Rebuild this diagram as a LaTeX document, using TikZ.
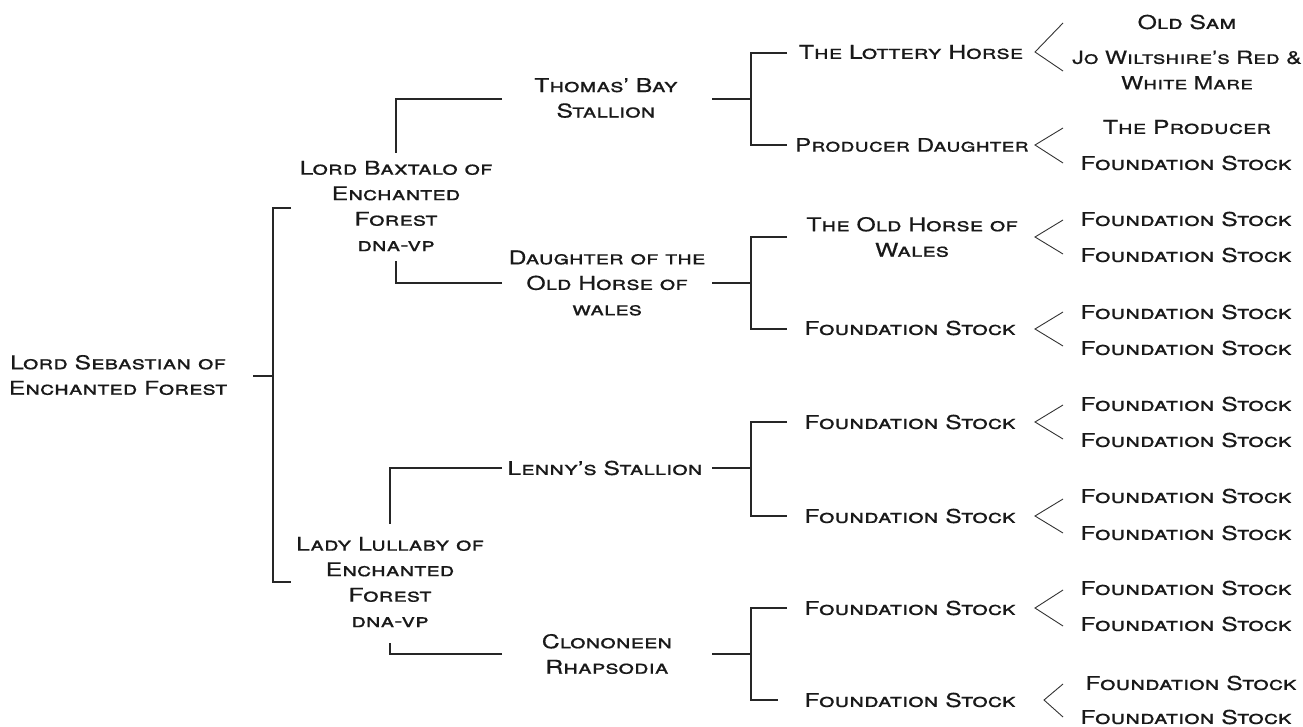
\documentclass[tikz,border=0pt]{standalone}
\usepackage{fontspec}
\setmainfont{TeX Gyre Heros}[FakeStretch=1.3, FakeBold=0.6]

\begin{document}
\begin{tikzpicture}[x=1pt,y=-1pt,
  horse/.style={font=\fontsize{19}{25.5}\selectfont\scshape, align=center, inner sep=4pt, text=black!90},
  tight/.style={font=\fontsize{18}{25.5}\selectfont\scshape},
  link/.style={line width=1.5pt, draw=black!85},
  fork/.style={line width=0.9pt, draw=black!80}]
\useasboundingbox (0,0) rectangle (1303,726);

% Subject
\node[horse] (seb) at (118,375) {Lord Sebastian of\\Enchanted Forest};

% Parents
\node[horse] (bax) at (396,206) {Lord Baxtalo of\\Enchanted\\Forest\\dna-vp};
\node[horse] (lul) at (390,582) {Lady Lullaby of\\Enchanted\\Forest\\dna-vp};

% Grandparents
\node[horse] (thomas) at (606,98) {Thomas' Bay\\Stallion};
\node[horse] (daughter) at (607,283) {Daughter of the\\Old Horse of\\wales};
\node[horse] (lenny) at (605,468) {Lenny's Stallion};
\node[horse] (clon) at (607,654) {Clononeen\\Rhapsodia};

% Great-grandparents
\node[horse] (lottery) at (911,52) {The Lottery Horse};
\node[horse, font=\fontsize{18.5}{25.5}\selectfont\scshape] (prodd) at (912,145) {Producer Daughter};
\node[horse] (oldhorse) at (912,237) {The Old Horse of\\Wales};
\node[horse] (fsb) at (910,328) {Foundation Stock};
\node[horse] (fsc) at (910,422) {Foundation Stock};
\node[horse] (fsd) at (910,516) {Foundation Stock};
\node[horse] (fse) at (910,608) {Foundation Stock};
\node[horse] (fsf) at (910,700) {Foundation Stock};

% Great-great-grandparents
\node[horse] (oldsam) at (1187,22) {Old Sam};
\node[horse, tight] (jo) at (1187,70) {Jo Wiltshire's Red \&\\White Mare};
\node[horse] (producer) at (1187,127) {The Producer};
\node[horse] (fs1) at (1186,163) {Foundation Stock};
\node[horse] (fs2) at (1186,219) {Foundation Stock};
\node[horse] (fs3) at (1186,255) {Foundation Stock};
\node[horse] (fs4) at (1186,312) {Foundation Stock};
\node[horse] (fs5) at (1186,348) {Foundation Stock};
\node[horse] (fs6) at (1186,404) {Foundation Stock};
\node[horse] (fs7) at (1186,440) {Foundation Stock};
\node[horse] (fs8) at (1186,496) {Foundation Stock};
\node[horse] (fs9) at (1186,533) {Foundation Stock};
\node[horse] (fs10) at (1186,588) {Foundation Stock};
\node[horse] (fs11) at (1186,624) {Foundation Stock};
\node[horse] (fs12) at (1191,683) {Foundation Stock};
\node[horse] (fs13) at (1186,717) {Foundation Stock};

% Bracket: subject to parents
\coordinate (seb-out) at (253,376);
\coordinate (j0) at (273,376);
\coordinate (bax-in) at (291,208);
\coordinate (lul-in) at (291,582);
\draw[link] (seb-out) -- (j0);
\draw[link] (bax-in) -| (j0) |- (lul-in);

% Parents to grandparents
\coordinate (thomas-in) at (502,99);
\coordinate (daughter-in) at (502,283);
\coordinate (lenny-in) at (502,468);
\coordinate (clon-in) at (502,654);
\draw[link, shorten >=4pt] (thomas-in) -| (bax.north);
\draw[link, shorten >=6pt] (daughter-in) -| (bax.south);
\draw[link, shorten >=9pt] (lenny-in) -| (lul.north);
\draw[link, shorten >=12pt] (clon-in) -| (lul.south);

% Grandparents to great-grandparents
\coordinate (thomas-out) at (712,99);
\coordinate (ja) at (751,99);
\coordinate (lottery-in) at (787,53);
\coordinate (prodd-in) at (787,145);
\draw[link] (thomas-out) -- (ja);
\draw[link] (lottery-in) -| (ja) |- (prodd-in);

\coordinate (daughter-out) at (712,283);
\coordinate (jb) at (751,283);
\coordinate (oldhorse-in) at (787,237);
\coordinate (fsb-in) at (787,329);
\draw[link] (daughter-out) -- (jb);
\draw[link] (oldhorse-in) -| (jb) |- (fsb-in);

\coordinate (lenny-out) at (712,468);
\coordinate (jc) at (751,468);
\coordinate (fsc-in) at (787,422);
\coordinate (fsd-in) at (787,516);
\draw[link] (lenny-out) -- (jc);
\draw[link] (fsc-in) -| (jc) |- (fsd-in);

\coordinate (clon-out) at (712,654);
\coordinate (jd) at (751,654);
\coordinate (fse-in) at (787,608);
\coordinate (fsf-in) at (778,700);
\draw[link] (clon-out) -- (jd);
\draw[link] (fse-in) -| (jd) |- (fsf-in);

% Forks to great-great-grandparents
\coordinate (lottery-v) at (1035,52);
\coordinate (prodd-v) at (1035,145);
\coordinate (oldhorse-v) at (1035,237);
\coordinate (fsb-v) at (1035,329);
\coordinate (fsc-v) at (1035,422);
\coordinate (fsd-v) at (1035,516);
\coordinate (fse-v) at (1035,608);
\coordinate (fsf-v) at (1044,700);
\draw[fork] (lottery-v) ++(28,-29) -- (lottery-v) -- ++(28,19);
\draw[fork] (prodd-v) ++(28,-17) -- (prodd-v) -- ++(28,18);
\draw[fork] (oldhorse-v) ++(28,-17) -- (oldhorse-v) -- ++(28,17);
\draw[fork] (fsb-v) ++(28,-17) -- (fsb-v) -- ++(28,17);
\draw[fork] (fsc-v) ++(28,-17) -- (fsc-v) -- ++(28,17);
\draw[fork] (fsd-v) ++(28,-17) -- (fsd-v) -- ++(28,17);
\draw[fork] (fse-v) ++(28,-18) -- (fse-v) -- ++(28,18);
\draw[fork] (fsf-v) ++(19,-16) -- (fsf-v) -- ++(19,17);
\end{tikzpicture}
\end{document}
